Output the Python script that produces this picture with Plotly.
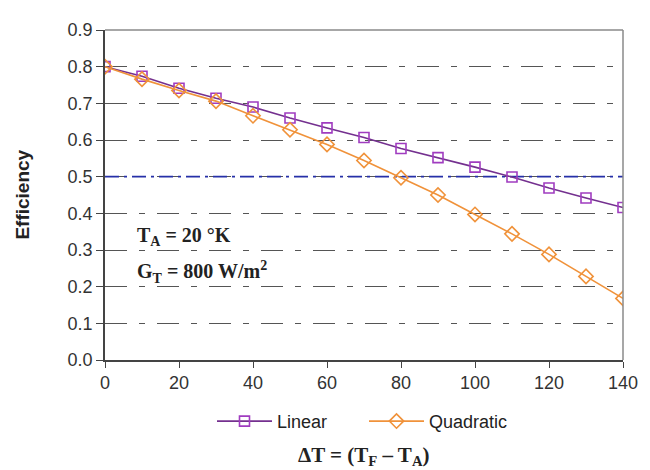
import plotly.graph_objects as go

delta_t = [0, 10, 20, 30, 40, 50, 60, 70, 80, 90, 100, 110, 120, 130, 140]
linear = [0.800, 0.774, 0.741, 0.714, 0.690, 0.660, 0.633, 0.607, 0.577, 0.552, 0.526, 0.499, 0.469, 0.442, 0.416]
quadratic = [0.800, 0.766, 0.735, 0.706, 0.666, 0.628, 0.588, 0.544, 0.497, 0.450, 0.397, 0.344, 0.288, 0.228, 0.168]
threshold = 0.5
x_ticks = [0, 20, 40, 60, 80, 100, 120, 140]
y_ticks = [0.0, 0.1, 0.2, 0.3, 0.4, 0.5, 0.6, 0.7, 0.8, 0.9]

SANS = "Liberation Sans, Arial, sans-serif"
SERIF = "Liberation Serif, Times New Roman, serif"

fig = go.Figure()

# reference line at 0.5
fig.add_trace(go.Scatter(
    x=[delta_t[0], delta_t[-1]], y=[threshold, threshold], mode="lines",
    line=dict(color="#2630A8", width=1.6, dash="14px,5px,3px,5px"),
    showlegend=False, hoverinfo="skip"))

fig.add_trace(go.Scatter(
    x=delta_t, y=linear, mode="lines+markers", name="Linear",
    line=dict(color="#74308F", width=1.6),
    marker=dict(symbol="square-open", size=10, color="#A03CC0", line=dict(width=1.6))))
fig.add_trace(go.Scatter(
    x=delta_t, y=quadratic, mode="lines+markers", name="Quadratic",
    line=dict(color="#F0923A", width=1.6),
    marker=dict(symbol="diamond-open", size=11, color="#F0923A", line=dict(width=1.6))))

# The page body adds an 8px offset, so the figure is sized to fit the window.
fig.update_layout(
    width=642, height=462,
    margin=dict(l=97, r=16, t=14, b=110),
    paper_bgcolor="white", plot_bgcolor="white",
    font=dict(family=SANS, size=18, color="#333333"),
    legend=dict(orientation="h", x=0.5, xanchor="center", y=-0.186, yanchor="middle",
                font=dict(family=SANS, size=18, color="#222222"),
                itemwidth=55, entrywidth=82, tracegroupgap=0, bgcolor="rgba(0,0,0,0)"),
    xaxis=dict(range=[0, 140], tickvals=x_ticks, showgrid=False, zeroline=False,
               showline=True, linecolor="#444444", linewidth=1.5,
               ticks="outside", ticklen=6, tickcolor="#444444",
               ticklabeloverflow="allow",
               tickfont=dict(family=SANS, size=18, color="#333333")),
    yaxis=dict(range=[0, 0.9], tickvals=y_ticks, tickformat=".1f",
               showgrid=True, gridcolor="#555555", gridwidth=1,
               griddash="22px,12px,6px,12px", zeroline=False,
               showline=True, linecolor="#444444", linewidth=1.5,
               ticks="outside", ticklen=7, tickcolor="#444444",
               tickfont=dict(family=SANS, size=18, color="#333333")),
)

# top and right frame lines in lighter gray
fig.add_shape(type="line", xref="paper", yref="paper", x0=0, x1=1, y0=1, y1=1,
              line=dict(color="#8A8A8A", width=1.5))
fig.add_shape(type="line", xref="paper", yref="paper", x0=1, x1=1, y0=0, y1=1,
              line=dict(color="#8A8A8A", width=1.5))

fig.add_annotation(text="<b>Efficiency</b>", xref="paper", yref="paper",
                   x=-0.161, y=0.5, xanchor="center", yanchor="middle", textangle=-90,
                   showarrow=False, font=dict(family=SANS, size=19, color="#222222"))
fig.add_annotation(text="<b>ΔT = (T<sub>F</sub> – T<sub>A</sub>)</b>", xref="paper", yref="paper",
                   x=0.5, y=-0.29, xanchor="center", yanchor="middle", showarrow=False,
                   font=dict(family=SERIF, size=21, color="#222222"))
fig.add_annotation(text="<b>T<sub>A</sub> = 20 °K</b>", x=8.0, y=0.337, xanchor="left",
                   showarrow=False, font=dict(family=SERIF, size=20, color="#222222"))
fig.add_annotation(text="<b>G<sub>T</sub> = 800 W/m<sup>2</sup></b>", x=8.0, y=0.24, xanchor="left",
                   showarrow=False, font=dict(family=SERIF, size=20, color="#222222"))

fig.write_html("out.html")
